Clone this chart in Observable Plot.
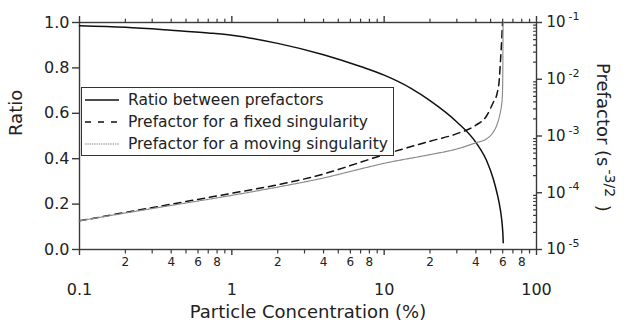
<!DOCTYPE html>
<html><head><meta charset="utf-8">
<script src="https://cdn.jsdelivr.net/npm/d3@7"></script>
<script src="https://cdn.jsdelivr.net/npm/@observablehq/plot@0.6"></script>
<style>
body{margin:0;background:#fff;}
#wrap{position:relative;width:628px;height:327px;font-family:"DejaVu Sans",sans-serif;color:#222;}
#wrap svg{position:absolute;left:0;top:0;}
#legend{position:absolute;left:81px;top:87px;width:311px;height:67px;border:1.3px solid #333;background:#fff;}
.row{position:absolute;left:0;height:22px;display:flex;align-items:center;font-size:15.5px;white-space:nowrap;}
.row svg{position:static !important;margin-left:3px;margin-right:9px;}
</style></head><body><div id="wrap"></div>
<script>
// Ratio between prefactors (left axis)
const concRatio = [0.1,0.2,0.4,0.7,1,2,4,7,10,15,20,30,40,47,52,55,58,59.5,60.2,60.5];
const ratio = [0.986,0.979,0.966,0.954,0.944,0.908,0.858,0.806,0.768,0.710,0.656,0.562,0.472,0.392,0.312,0.250,0.172,0.112,0.065,0.030];
// Prefactor for a fixed singularity (right axis, s^-3/2)
const concFixed = [0.1,0.2,0.5,1,2,4,7,10,20,30,40,47,52,55,57,58,59,59.6,59.9];
const prefFixed = [3.2e-5,4.5e-5,7.0e-5,9.8e-5,1.38e-4,2.14e-4,3.45e-4,4.7e-4,8.1e-4,1.1e-3,1.55e-3,2.25e-3,3.9e-3,5.5e-3,1.0e-2,2.1e-2,4.5e-2,8.0e-2,1.0e-1];
// Prefactor for a moving singularity
const concMoving = [0.1,0.2,0.5,1,2,4,7,10,20,30,40,47,52,55,57.5,59,59.6,60,60.2,60.35];
const prefMoving = [3.2e-5,4.4e-5,6.6e-5,9.0e-5,1.26e-4,1.82e-4,2.63e-4,3.3e-4,4.7e-4,5.9e-4,7.6e-4,8.9e-4,1.17e-3,1.58e-3,2.4e-3,3.55e-3,4.7e-3,8.9e-3,3.2e-2,1.0e-1];

const xMajorTicks = [0.1,1,10,100];
const xMinorTicks = [0.2,0.3,0.4,0.5,0.6,0.7,0.8,0.9,2,3,4,5,6,7,8,9,20,30,40,50,60,70,80,90];
const xMinorLabeled = [0.2,0.4,0.6,0.8,2,4,6,8,20,40,60,80];
const xMinorLabels = ["2","4","6","8","2","4","6","8","2","4","6","8"];
const xMajorLabels = ["0.1","1","10","100"];
const yRatioTicks = [0,0.2,0.4,0.6,0.8,1.0];
const yPrefTicks = [1e-5,1e-4,1e-3,1e-2,1e-1];
const yPrefExponents = ["-5","-4","-3","-2","-1"];
const yPrefMinor = [2e-5,3e-5,4e-5,5e-5,6e-5,7e-5,8e-5,9e-5,2e-4,3e-4,4e-4,5e-4,6e-4,7e-4,8e-4,9e-4,2e-3,3e-3,4e-3,5e-3,6e-3,7e-3,8e-3,9e-3,2e-2,3e-2,4e-2,5e-2,6e-2,7e-2,8e-2,9e-2];
const legendLabels = ["Ratio between prefactors","Prefactor for a fixed singularity","Prefactor for a moving singularity"];

const W = 628, H = 327;
const M = {marginLeft:79, marginRight:92, marginTop:22, marginBottom:78};
const axisCol = "#3a3a3a";
const tickShape = {draw(context, l) { context.moveTo(0, 0); context.lineTo(0, -l); }};
const ratioData = concRatio.map((c,i)=>({c, v: ratio[i]}));
const fixedData = concFixed.map((c,i)=>({c, v: prefFixed[i]}));
const movingData = concMoving.map((c,i)=>({c, v: prefMoving[i]}));

const p1 = Plot.plot({
  width: W, height: H, ...M,
  style: {fontFamily: "DejaVu Sans, sans-serif", background: "transparent", color: "#222", overflow: "visible"},
  x: {type: "log", domain: [0.1, 100], label: null},
  y: {domain: [0, 1], label: null},
  marks: [
    Plot.frame({stroke: axisCol, strokeWidth: 1.4}),
    Plot.axisY(yRatioTicks, {anchor: "left", tickSize: 7, tickPadding: 3, tickFormat: d => d.toFixed(1), fontSize: 16, stroke: axisCol, strokeWidth: 1.4, label: null}),
    Plot.axisX(xMajorTicks, {anchor: "bottom", tickSize: 6, tickPadding: 28, tickFormat: d => xMajorLabels[xMajorTicks.indexOf(d)], fontSize: 16, stroke: axisCol, strokeWidth: 1.4, label: null}),
    Plot.axisX(xMajorTicks, {anchor: "top", tickSize: 7, tickFormat: () => "", stroke: axisCol, strokeWidth: 1.4, label: null}),
    Plot.vector(xMinorTicks, {x: d => d, frameAnchor: "bottom", length: 3.5, rotate: 180, anchor: "start", shape: tickShape, stroke: axisCol, strokeWidth: 1.2}),
    Plot.vector(xMinorTicks, {x: d => d, frameAnchor: "top", length: 3.5, rotate: 0, anchor: "start", shape: tickShape, stroke: axisCol, strokeWidth: 1.2}),
    Plot.text(xMinorLabeled, {x: d => d, text: (d, i) => xMinorLabels[i], frameAnchor: "bottom", dy: 16, fontSize: 12, fill: "#222"}),
    Plot.text(["Ratio"], {text: d => d, frameAnchor: "left", dx: -63, rotate: -90, fontSize: 18, fill: "#222"}),
    Plot.text(["Particle Concentration (%)"], {text: d => d, frameAnchor: "bottom", dy: 68, fontSize: 18, fill: "#222"}),
    Plot.line(ratioData, {x: "c", y: "v", stroke: "#111", strokeWidth: 1.5, curve: "monotone-x"})
  ]
});

const p2 = Plot.plot({
  width: W, height: H, ...M,
  style: {fontFamily: "DejaVu Sans, sans-serif", background: "transparent", color: "#222", overflow: "visible"},
  x: {type: "log", domain: [0.1, 100], axis: null, label: null},
  y: {type: "log", domain: [1e-5, 1e-1], label: null},
  marks: [
    Plot.axisY(yPrefTicks, {anchor: "right", tickSize: 5, tickPadding: 5, tickFormat: d => "10|" + yPrefExponents[yPrefTicks.indexOf(d)], fontSize: 15, stroke: axisCol, strokeWidth: 1.4, label: null}),
    Plot.vector(yPrefMinor, {y: d => d, frameAnchor: "right", length: 3, rotate: 270, anchor: "start", shape: tickShape, stroke: axisCol, strokeWidth: 1.1}),
    Plot.line(fixedData, {x: "c", y: "v", stroke: "#111", strokeWidth: 1.5, strokeDasharray: "7,5", curve: "monotone-x"}),
    Plot.line(movingData, {x: "c", y: "v", stroke: "#8a8a8a", strokeWidth: 1.2, strokeDasharray: "1.5,0.8", curve: "monotone-x"})
  ]
});

// superscripts on the right tick labels
d3.select(p2).selectAll("text").each(function(){
  const t = this.textContent;
  if (t.includes("|")) {
    const [b, e] = t.split("|");
    const s = d3.select(this);
    s.text(null);
    s.append("tspan").text(b);
    s.append("tspan").attr("dy", "-0.65em").attr("dx", "3").attr("font-size", "11").text(e);
  }
});
// right axis title with superscript
const tt = d3.select(p2).append("text")
  .attr("transform", "translate(597,63) rotate(90)")
  .attr("text-anchor", "start")
  .attr("font-size", 18).attr("fill", "#222").attr("font-family", "DejaVu Sans, sans-serif");
tt.append("tspan").text("Prefactor (s");
tt.append("tspan").attr("dy", -8).attr("dx", 3).attr("font-size", 14).text("-3/2");
tt.append("tspan").attr("dy", 8).attr("dx", 2).text(" )");

const wrap = document.getElementById("wrap");
wrap.appendChild(p1);
wrap.appendChild(p2);

// legend
const leg = document.createElement("div");
leg.id = "legend";
const styles = [
  {stroke: "#111", w: 1.5, dash: null},
  {stroke: "#111", w: 1.5, dash: "6,7"},
  {stroke: "#8a8a8a", w: 1.2, dash: "1.5,0.8"}
];
legendLabels.forEach((lab, i) => {
  const row = document.createElement("div");
  row.className = "row";
  row.style.top = (1 + i * 22) + "px";
  const sw = d3.create("svg").attr("width", 34).attr("height", 10);
  sw.append("line").attr("x1", 0).attr("x2", 34).attr("y1", 5).attr("y2", 5)
    .attr("stroke", styles[i].stroke).attr("stroke-width", styles[i].w)
    .attr("stroke-dasharray", styles[i].dash);
  row.appendChild(sw.node());
  const sp = document.createElement("span");
  sp.textContent = lab;
  row.appendChild(sp);
  leg.appendChild(row);
});
wrap.appendChild(leg);
</script>
</body></html>
